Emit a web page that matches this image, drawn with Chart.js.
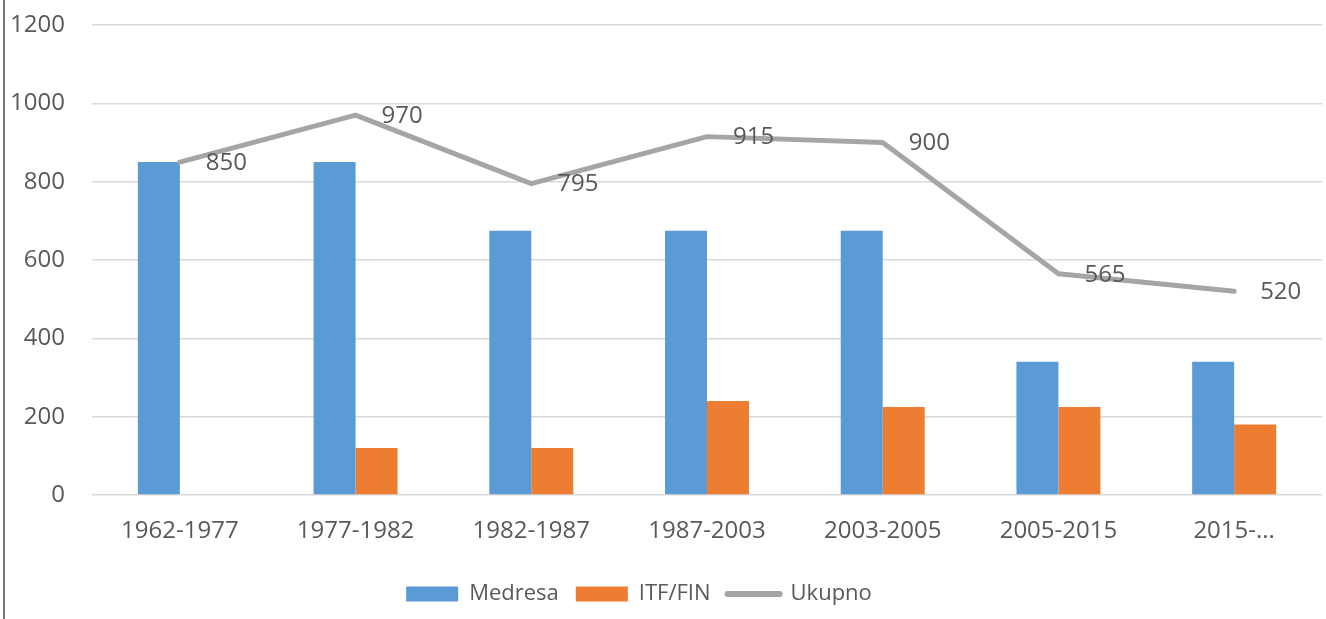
<!DOCTYPE html>
<html>
<head>
<meta charset="utf-8">
<script src="https://cdn.jsdelivr.net/npm/chart.js@4/dist/chart.umd.min.js"></script>
<style>
  html, body { margin: 0; padding: 0; background: #fff; }
  #wrap { position: relative; width: 1326px; height: 619px; }
</style>
</head>
<body>
<div id="wrap"><canvas id="chart"></canvas></div>
<script>
/******************************************************
 * DATA
 ******************************************************/
const periods = ["1962-1977", "1977-1982", "1982-1987", "1987-2003", "2003-2005", "2005-2015", "2015-..."];
const medresa = [850, 850, 675, 675, 675, 340, 340];
const itfFin = [0, 120, 120, 240, 225, 225, 180];
const ukupno = [850, 970, 795, 915, 900, 565, 520];
const yTicks = [0, 200, 400, 600, 800, 1000, 1200];

const TEXT = "#595959";
const FONT = "'Open Sans', 'Noto Sans', sans-serif";

/******************************************************
 * PLUGINS
 ******************************************************/
// left frame line of the original chart box
const framePlugin = {
  id: "frame",
  beforeDraw(chart) {
    const ctx = chart.ctx;
    ctx.save();
    ctx.strokeStyle = "#767676";
    ctx.lineWidth = 2;
    ctx.beginPath();
    ctx.moveTo(4, 0);
    ctx.lineTo(4, chart.height);
    ctx.stroke();
    ctx.restore();
  }
};

// legend sits a bit left of the canvas centre in the original
const legendShift = {
  id: "legendShift",
  afterLayout(chart) {
    if (!chart.legend) return;
    chart.legend.left -= 27;
    chart.legend.right -= 27;
  }
};

// value labels right of the line points
const lineLabels = {
  id: "lineLabels",
  afterDatasetsDraw(chart) {
    const ctx = chart.ctx;
    const meta = chart.getDatasetMeta(2);
    ctx.save();
    ctx.font = "24px " + FONT;
    ctx.fillStyle = TEXT;
    ctx.textAlign = "left";
    ctx.textBaseline = "middle";
    meta.data.forEach((pt, i) => {
      ctx.fillText(String(ukupno[i]), pt.x + 26, pt.y + 1);
    });
    ctx.restore();
  }
};

/******************************************************
 * CHART
 ******************************************************/
new Chart(document.getElementById("chart"), {
  data: {
    labels: periods,
    datasets: [
      {
        type: "bar",
        label: "Medresa",
        data: medresa,
        backgroundColor: "#5B9BD5",
        categoryPercentage: 0.478,
        barPercentage: 1,
        order: 2
      },
      {
        type: "bar",
        label: "ITF/FIN",
        data: itfFin,
        backgroundColor: "#ED7D31",
        categoryPercentage: 0.478,
        barPercentage: 1,
        order: 2
      },
      {
        type: "line",
        label: "Ukupno",
        data: ukupno,
        borderColor: "#A5A5A5",
        backgroundColor: "#A5A5A5",
        borderWidth: 5,
        pointRadius: 0,
        tension: 0,
        borderJoinStyle: "round",
        borderCapStyle: "round",
        order: 1
      }
    ]
  },
  options: {
    responsive: true,
    maintainAspectRatio: false,
    animation: false,
    layout: { autoPadding: false, padding: { left: 10, right: 4, top: 25, bottom: 4 } },
    scales: {
      x: {
        offset: true,
        grid: { display: false, drawTicks: false },
        border: { display: false },
        ticks: { color: TEXT, font: { family: FONT, size: 24 }, padding: 22, maxRotation: 0 },
        afterFit(axis) { axis.height = 71; }
      },
      y: {
        min: 0,
        max: 1200,
        afterBuildTicks(axis) { axis.ticks = yTicks.map(v => ({ value: v })); },
        afterFit(axis) { axis.width = 82; },
        grid: { color: "#D9D9D9", lineWidth: 1.5, drawTicks: true, tickLength: 27, tickColor: "rgba(0,0,0,0)" },
        border: { display: false },
        ticks: {
          color: TEXT,
          font: { family: FONT, size: 24 },
          padding: 0,
          callback: v => String(v)
        }
      }
    },
    plugins: {
      tooltip: { enabled: false },
      legend: {
        position: "bottom",
        labels: {
          usePointStyle: true,
          pointStyleWidth: 52,
          boxHeight: 15,
          padding: 17,
          color: TEXT,
          font: { family: FONT, size: 22 },
          generateLabels(chart) {
            return chart.data.datasets.map((ds, i) => {
              const isLine = ds.type === "line";
              return {
                text: ds.label,
                fillStyle: isLine ? ds.borderColor : ds.backgroundColor,
                strokeStyle: isLine ? ds.borderColor : ds.backgroundColor,
                lineWidth: isLine ? 6 : 0,
                lineCap: "round",
                pointStyle: isLine ? "line" : "rect",
                fontColor: TEXT,
                hidden: false,
                datasetIndex: i
              };
            });
          }
        }
      }
    }
  },
  plugins: [framePlugin, legendShift, lineLabels]
});
</script>
</body>
</html>
